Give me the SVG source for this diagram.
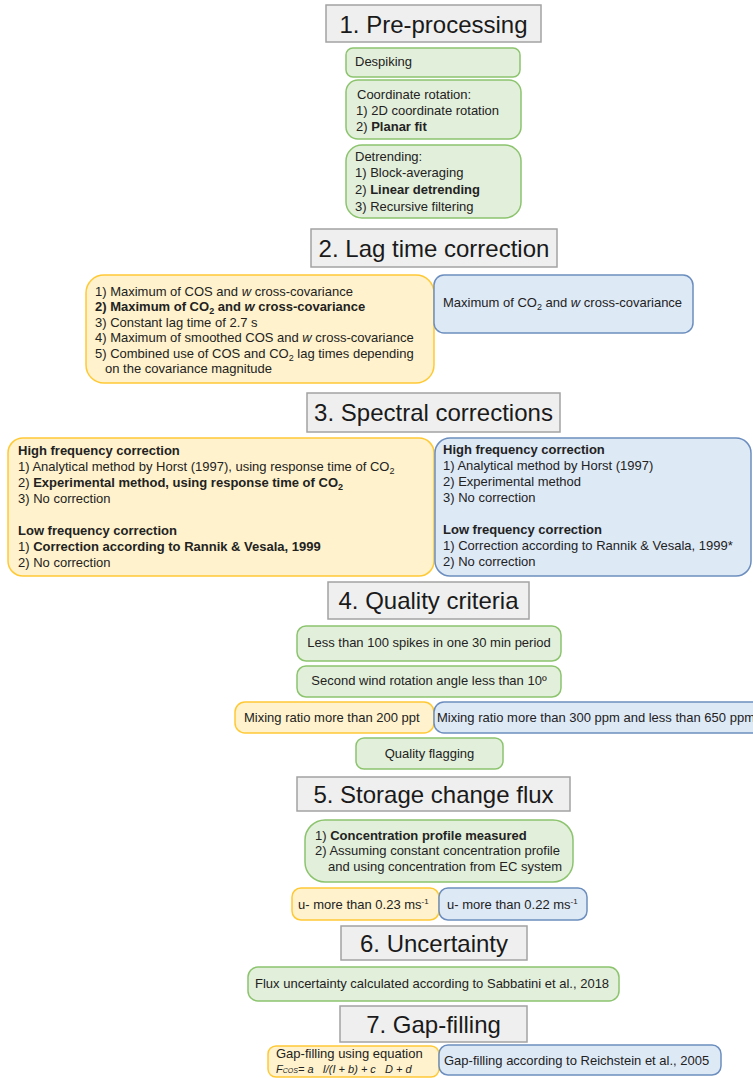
<svg xmlns="http://www.w3.org/2000/svg" width="753" height="1078" viewBox="0 0 753 1078">
<style>
text{font-family:"Liberation Sans",Arial,sans-serif;fill:#222;}
.t{font-size:24px;text-anchor:middle;fill:#1a1a1a;}
.b{font-size:13px;}
.c{text-anchor:middle;}
.bold{font-weight:bold;}
.title{fill:#efefef;stroke:#a3a3a3;stroke-width:1.5;}
.g{fill:#e2efda;stroke:#8cc46e;stroke-width:1.5;}
.y{fill:#fff2cc;stroke:#ffc936;stroke-width:1.5;}
.u{fill:#dee9f6;stroke:#6c8ebf;stroke-width:1.5;}
</style>
<rect width="753" height="1078" fill="#ffffff"/>

<g id="title1"><rect class="title" x="326" y="5" width="215" height="37"/><text class="t" x="433.5" y="33">1. Pre-processing</text></g>
<g id="despiking"><rect class="g" x="346" y="48" width="174" height="29" rx="7"/><text class="b" x="355" y="66">Despiking</text></g>
<g id="rotation"><rect class="g" x="346" y="80" width="175" height="59" rx="12"/>
<text class="b" x="357" y="99">Coordinate rotation:</text>
<text class="b" x="356" y="115">1) 2D coordinate rotation</text>
<text class="b" x="356" y="131">2) <tspan class="bold">Planar fit</tspan></text></g>
<g id="detrending"><rect class="g" x="346" y="145" width="175" height="73" rx="16"/>
<text class="b" x="355" y="161">Detrending:</text>
<text class="b" x="355" y="177">1) Block-averaging</text>
<text class="b" x="355" y="194">2) <tspan class="bold">Linear detrending</tspan></text>
<text class="b" x="355" y="211">3) Recursive filtering</text></g>

<g id="title2"><rect class="title" x="311" y="229" width="246" height="38"/><text class="t" x="434" y="257">2. Lag time correction</text></g>
<g id="lag-cos"><rect class="y" x="86" y="275" width="348" height="108" rx="18"/>
<text class="b" x="95" y="296">1) Maximum of COS and <tspan font-style="italic">w</tspan> cross-covariance</text>
<text class="b bold" x="95" y="311">2) Maximum of CO<tspan font-size="9" dy="3">2</tspan><tspan dy="-3"> and </tspan><tspan font-style="italic">w</tspan> cross-covariance</text>
<text class="b" x="95" y="327">3) Constant lag time of 2.7 s</text>
<text class="b" x="95" y="342">4) Maximum of smoothed COS and <tspan font-style="italic">w</tspan> cross-covariance</text>
<text class="b" x="95" y="358">5) Combined use of COS and CO<tspan font-size="9" dy="3">2</tspan><tspan dy="-3"> lag times depending</tspan></text>
<text class="b" x="105" y="373">on the covariance magnitude</text></g>
<g id="lag-co2"><rect class="u" x="434" y="275" width="259" height="58" rx="10"/>
<text class="b" x="443" y="307">Maximum of CO<tspan font-size="9" dy="3">2</tspan><tspan dy="-3"> and </tspan><tspan font-style="italic">w</tspan> cross-covariance</text></g>

<g id="title3"><rect class="title" x="307" y="393" width="253" height="39"/><text class="t" x="433.5" y="421">3. Spectral corrections</text></g>
<g id="spec-cos"><rect class="y" x="8" y="438" width="426" height="138" rx="15"/>
<text class="b bold" x="18" y="455">High frequency correction</text>
<text class="b" x="18" y="471">1) Analytical method by Horst (1997), using response time of CO<tspan font-size="9" dy="3">2</tspan></text>
<text class="b" x="18" y="487">2) <tspan class="bold">Experimental method, using response time of CO</tspan><tspan class="bold" font-size="9" dy="3">2</tspan></text>
<text class="b" x="18" y="503">3) No correction</text>
<text class="b bold" x="18" y="534.5">Low frequency correction</text>
<text class="b" x="18" y="550.5">1) <tspan class="bold">Correction according to Rannik &amp; Vesala, 1999</tspan></text>
<text class="b" x="18" y="566.5">2) No correction</text></g>
<g id="spec-co2"><rect class="u" x="435" y="438" width="316" height="138" rx="15"/>
<text class="b bold" x="443" y="454">High frequency correction</text>
<text class="b" x="443" y="470">1) Analytical method by Horst (1997)</text>
<text class="b" x="443" y="486">2) Experimental method</text>
<text class="b" x="443" y="502">3) No correction</text>
<text class="b bold" x="443" y="533.5">Low frequency correction</text>
<text class="b" x="443" y="549.5">1) Correction according to Rannik &amp; Vesala, 1999*</text>
<text class="b" x="443" y="565.5">2) No correction</text></g>

<g id="title4"><rect class="title" x="328" y="582" width="201" height="37"/><text class="t" x="428.5" y="609">4. Quality criteria</text></g>
<g id="spikes"><rect class="g" x="297" y="626" width="264" height="35" rx="9"/><text class="b c" x="429" y="647">Less than 100 spikes in one 30 min period</text></g>
<g id="angle"><rect class="g" x="297" y="666" width="264" height="31" rx="9"/><text class="b c" x="429" y="685">Second wind rotation angle less than 10º</text></g>
<g id="mix-cos"><rect class="y" x="235" y="702" width="199" height="31" rx="10"/><text class="b" x="244" y="722">Mixing ratio more than 200 ppt</text></g>
<g id="mix-co2"><rect class="u" x="434" y="702" width="345" height="31" rx="10"/><text class="b" x="437" y="722">Mixing ratio more than 300 ppm and less than 650 ppm</text></g>
<g id="flagging"><rect class="g" x="356" y="738" width="147" height="31" rx="8"/><text class="b c" x="429.5" y="758">Quality flagging</text></g>

<g id="title5"><rect class="title" x="297" y="777" width="273" height="34"/><text class="t" x="433.5" y="803">5. Storage change flux</text></g>
<g id="storage"><rect class="g" x="305" y="820" width="268" height="62" rx="20"/>
<text class="b" x="315" y="840">1) <tspan class="bold">Concentration profile measured</tspan></text>
<text class="b" x="315" y="855">2) Assuming constant concentration profile</text>
<text class="b" x="328" y="871">and using concentration from EC system</text></g>
<g id="ustar-cos"><rect class="y" x="292" y="888" width="147" height="32" rx="9"/><text class="b" x="298" y="909">u- more than 0.23 ms<tspan font-size="8" dy="-5">-1</tspan></text></g>
<g id="ustar-co2"><rect class="u" x="439" y="888" width="148" height="32" rx="9"/><text class="b" x="447" y="909">u- more than 0.22 ms<tspan font-size="8" dy="-5">-1</tspan></text></g>

<g id="title6"><rect class="title" x="341" y="926" width="186" height="34"/><text class="t" x="434" y="952">6. Uncertainty</text></g>
<g id="uncertainty"><rect class="g" x="248" y="967" width="371" height="34" rx="10"/><text class="b" x="255" y="988">Flux uncertainty calculated according to Sabbatini et al., 2018</text></g>

<g id="title7"><rect class="title" x="340" y="1006" width="187" height="36"/><text class="t" x="433.5" y="1033">7. Gap-filling</text></g>
<g id="gap-cos"><rect class="y" x="268" y="1046" width="171" height="31" rx="8"/>
<text class="b" x="276" y="1058">Gap-filling using equation</text>
<text x="276" y="1073" font-size="11" font-style="italic" xml:space="preserve"><tspan>F</tspan><tspan font-size="7">COS</tspan><tspan>= a   I/(I + b) + c   D + d</tspan></text></g>
<g id="gap-co2"><rect class="u" x="439" y="1045" width="282" height="30" rx="9"/><text class="b" x="444" y="1065">Gap-filling according to Reichstein et al., 2005</text></g>

<g id="connectors"></g>
</svg>
